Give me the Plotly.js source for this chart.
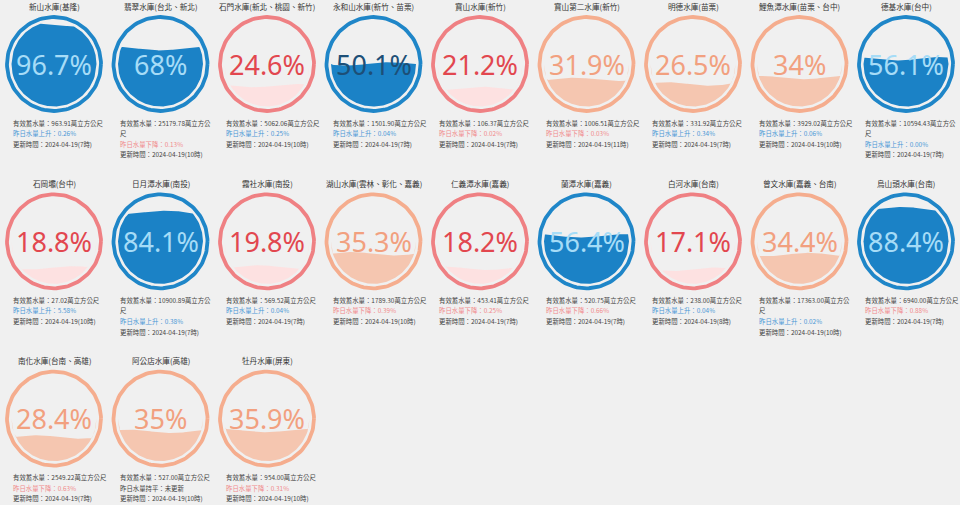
<!DOCTYPE html>
<html>
<head>
<meta charset="utf-8">
<script src="https://cdn.plot.ly/plotly-3.0.1.min.js"></script>
<style>
html,body{margin:0;padding:0;background:#f0f0f0;}
#chart{width:960px;height:505px;}
</style>
</head>
<body>
<div id="chart"></div>
<script>
// ---- data ----
const names = ["新山水庫(基隆)","翡翠水庫(台北、新北)","石門水庫(新北、桃園、新竹)","永和山水庫(新竹、苗栗)","寶山水庫(新竹)","寶山第二水庫(新竹)","明德水庫(苗栗)","鯉魚潭水庫(苗栗、台中)","德基水庫(台中)",
  "石岡壩(台中)","日月潭水庫(南投)","霧社水庫(南投)","湖山水庫(雲林、彰化、嘉義)","仁義潭水庫(嘉義)","蘭潭水庫(嘉義)","白河水庫(台南)","曾文水庫(嘉義、台南)","烏山頭水庫(台南)",
  "南化水庫(台南、高雄)","阿公店水庫(高雄)","牡丹水庫(屏東)"];
const percents = [96.7,68,24.6,50.1,21.2,31.9,26.5,34,56.1,18.8,84.1,19.8,35.3,18.2,56.4,17.1,34.4,88.4,28.4,35,35.9];
const volumes = ["963.91","25179.78","5062.06","1501.90","106.37","1006.51","331.92","3929.02","10594.43","27.02","10900.89","569.52","1789.30","453.41","520.75","238.00","17363.00","6940.00","2549.22","527.00","954.00"];
const changeDir = ["上升","下降","上升","上升","下降","下降","上升","上升","上升","上升","上升","上升","下降","下降","下降","上升","上升","下降","下降","持平","下降"];
const changeVal = ["0.26%","0.13%","0.25%","0.04%","0.02%","0.03%","0.34%","0.06%","0.00%","5.58%","0.38%","0.04%","0.39%","0.25%","0.66%","0.04%","0.02%","0.88%","0.63%","未更新","0.31%"];
const updateTimes = ["2024-04-19(7時)","2024-04-19(10時)","2024-04-19(10時)","2024-04-19(7時)","2024-04-19(7時)","2024-04-19(11時)","2024-04-19(7時)","2024-04-19(10時)","2024-04-19(7時)",
  "2024-04-19(10時)","2024-04-19(7時)","2024-04-19(7時)","2024-04-19(10時)","2024-04-19(7時)","2024-04-19(7時)","2024-04-19(8時)","2024-04-19(10時)","2024-04-19(7時)",
  "2024-04-19(7時)","2024-04-19(10時)","2024-04-19(10時)"];

// ---- styles ----
const themes = {
  blue:   {ring:"#1f86c8", fill:"#1b82c6", text:"#1d4f77", textOn:"#a6dcf7"},
  red:    {ring:"#ef8083", fill:"#fde1e1", text:"#e2474f", textOn:"#e2474f"},
  orange: {ring:"#f5ad8e", fill:"#f5c6b0", text:"#f2a07f", textOn:"#f2a07f"}
};
function themeOf(p){ return p >= 50 ? themes.blue : (p < 25 ? themes.red : themes.orange); }
const dirColor = {"上升":"#4a97d6","下降":"#f08a8c","持平":"#444444"};

const COLS = 9, X0 = 54, DX = 106.5, Y0 = 64, DY = 177.3;
const R_RING = 47, R_FILL = 42.5, WAVE_A = 1.7;

const traces = [];
const annotations = [];
const CJK = "Noto Sans CJK TC, Noto Sans CJK SC, sans-serif";

percents.forEach((p, i) => {
  const c = i % COLS, r = Math.floor(i / COLS);
  const cx = X0 + c * DX, cy = Y0 + r * DY;
  const th = themeOf(p);

  // fill (liquid) polygon
  const n = 90, up = [], lo = [];
  const level = cy + R_FILL - (p / 100) * 2 * R_FILL;
  for (let k = 0; k <= n; k++) {
    const x = cx - R_FILL + (2 * R_FILL) * k / n;
    const h = Math.sqrt(Math.max(0, R_FILL * R_FILL - (x - cx) * (x - cx)));
    const wave = level + WAVE_A * Math.sin(2 * Math.PI * (x - cx) / (2 * R_FILL) + 0.6 + i);
    const top = Math.min(Math.max(wave, cy - h), cy + h);
    up.push([x, top]); lo.push([x, cy + h]);
  }
  const poly = up.concat(lo.reverse());
  traces.push({type:"scatter", mode:"lines", x:poly.map(q=>q[0]), y:poly.map(q=>q[1]),
    fill:"toself", fillcolor:th.fill, line:{width:0, color:th.fill}, hoverinfo:"skip", showlegend:false});

  // ring
  const rx = [], ry = [];
  for (let k = 0; k <= 120; k++) { const a = 2*Math.PI*k/120; rx.push(cx + R_RING*Math.cos(a)); ry.push(cy + R_RING*Math.sin(a)); }
  traces.push({type:"scatter", mode:"lines", x:rx, y:ry, line:{width:3.8, color:th.ring}, hoverinfo:"skip", showlegend:false});

  // percentage text
  const covered = p > 55;
  annotations.push({x:cx, y:cy, xref:"x", yref:"y", text:p + "%", showarrow:false,
    font:{family:"Noto Sans, Open Sans, sans-serif", size:27, color: covered ? th.textOn : th.text},
    xanchor:"center", yanchor:"middle"});

  // title
  annotations.push({x:cx, y:cy - 58, xref:"x", yref:"y", text:names[i], showarrow:false,
    font:{family:CJK, size:7.6, color:"#333"}, xanchor:"center", yanchor:"middle"});

  // info lines
  const lines = [];
  const l1 = "有效蓄水量：" + volumes[i] + "萬立方公尺";
  if (l1.length > 18) { lines.push({t:l1.slice(0,-1), c:"#444"}); lines.push({t:l1.slice(-1), c:"#444"}); }
  else lines.push({t:l1, c:"#444"});
  const l2 = changeDir[i] === "持平" ? "昨日水量持平：" + changeVal[i] : "昨日水量" + changeDir[i] + "：" + changeVal[i];
  lines.push({t:l2, c:dirColor[changeDir[i]]});
  lines.push({t:"更新時間：" + updateTimes[i], c:"#444"});
  lines.forEach((ln, k) => {
    annotations.push({x:cx - 43, y:cy + 59 + k * 10.6, xref:"x", yref:"y", text:ln.t, showarrow:false,
      font:{family:CJK, size:6.4, color:ln.c}, xanchor:"left", yanchor:"middle"});
  });
});

const layout = {
  width:960, height:505, margin:{l:0,r:0,t:0,b:0},
  paper_bgcolor:"#f0f0f0", plot_bgcolor:"#f0f0f0",
  xaxis:{range:[0,960], visible:false, fixedrange:true},
  yaxis:{range:[505,0], visible:false, fixedrange:true},
  annotations:annotations, showlegend:false
};
Plotly.newPlot("chart", traces, layout, {displayModeBar:false, staticPlot:true});
</script>
</body>
</html>
